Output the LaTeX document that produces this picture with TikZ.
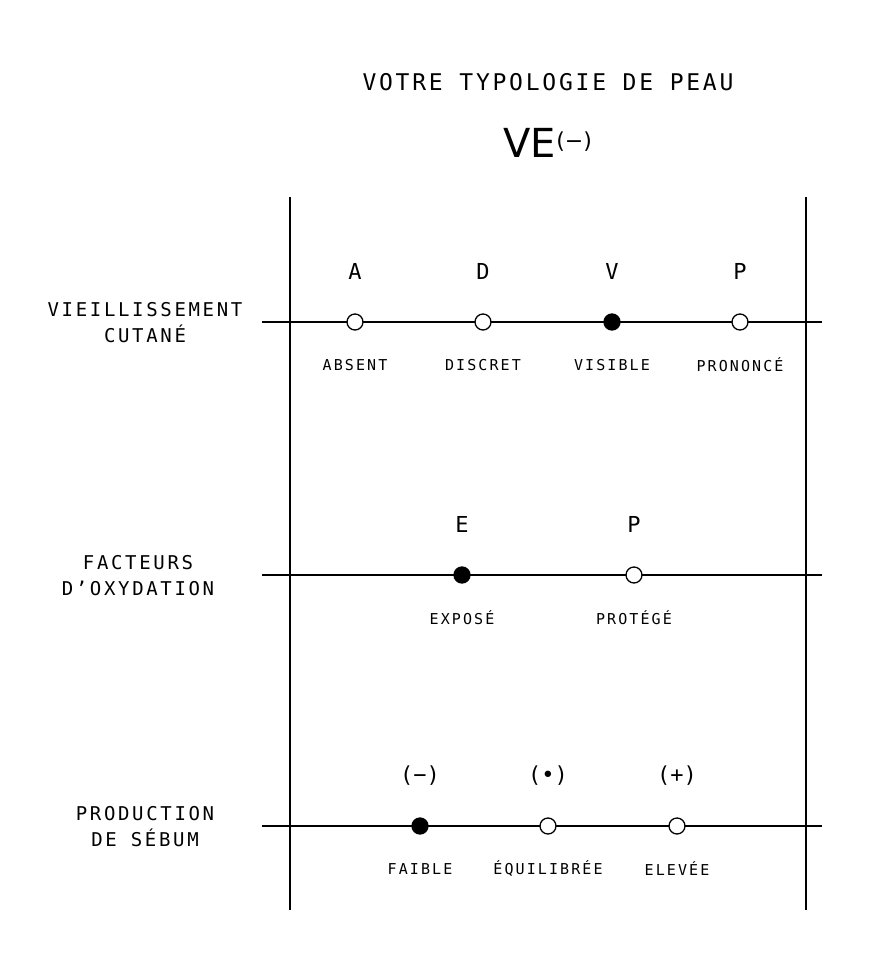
\documentclass[tikz,border=0pt]{standalone}
\usepackage{fontspec}
\setmainfont{DejaVu Sans Mono}
\newfontfamily\titlef[LetterSpace=12]{DejaVu Sans Mono}
\newfontfamily\smallf[LetterSpace=14]{DejaVu Sans Mono}
\newfontfamily\leftf[LetterSpace=14]{DejaVu Sans Mono}
\newfontfamily\bigf{DejaVu Sans}
\begin{document}
\begin{tikzpicture}[x=1pt,y=-1pt,
  ln/.style={line width=1.5pt},
  dot/.style={circle,draw,line width=1.3pt,fill=white,minimum size=16pt,inner sep=0pt},
  fdot/.style={dot,fill=black},
  let/.style={font=\fontsize{22}{22}\selectfont},
  lab/.style={font=\smallf\fontsize{15}{15}\selectfont},
  side/.style={font=\leftf\fontsize{19}{26}\selectfont,align=center}]
\useasboundingbox (0,0) rectangle (878,974);
\node[font=\titlef\fontsize{23}{23}\selectfont] (title) at (548,82) {VOTRE TYPOLOGIE DE PEAU};
\node[font=\bigf\fontsize{40}{40}\selectfont] (type) at (548,143) {VE\textsuperscript{\fontsize{22}{22}\selectfont(−)}};
\coordinate (l1) at (290,197); \coordinate (l2) at (290,910);
\coordinate (r1) at (806,197); \coordinate (r2) at (806,910);
\draw[ln] (l1) -- (l2); \draw[ln] (r1) -- (r2);
% row 1
\coordinate (a1) at (262,322); \coordinate (b1) at (822,322);
\draw[ln] (a1) -- (b1);
\node[side] (s1) at (145,323) {VIEILLISSEMENT\\CUTANÉ};
\foreach \x/\L/\T/\n in {355/A/ABSENT/1,483/D/DISCRET/2,612/V/VISIBLE/3,740/P/PRONONCÉ/4}{
  \node[let] (k\n) at (\x,271) {\L};
  \node[lab] (t\n) at (\x,365) {\T};
}
\node[dot] (d11) at (355,322) {}; \node[dot] (d12) at (483,322) {};
\node[fdot] (d13) at (612,322) {}; \node[dot] (d14) at (740,322) {};
% row 2
\coordinate (a2) at (262,575); \coordinate (b2) at (822,575);
\draw[ln] (a2) -- (b2);
\node[side] (s2) at (138,576) {FACTEURS\\D’OXYDATION};
\node[let] (e2) at (462,524) {E}; \node[let] (p2) at (634,524) {P};
\node[lab] (te) at (462,618) {EXPOSÉ}; \node[lab] (tp) at (634,618) {PROTÉGÉ};
\node[fdot] (d21) at (462,575) {}; \node[dot] (d22) at (634,575) {};
% row 3
\coordinate (a3) at (262,826); \coordinate (b3) at (822,826);
\draw[ln] (a3) -- (b3);
\node[side] (s3) at (145,827) {PRODUCTION\\DE SÉBUM};
\node[let] (m3) at (420,776) {(−)}; \node[let] (z3) at (548,776) {(•)}; \node[let] (q3) at (677,776) {(+)};
\node[lab] (tf) at (420,869) {FAIBLE}; \node[lab] (tq) at (548,869) {ÉQUILIBRÉE}; \node[lab] (tl) at (677,869) {ELEVÉE};
\node[fdot] (d31) at (420,826) {}; \node[dot] (d32) at (548,826) {}; \node[dot] (d33) at (677,826) {};
\end{tikzpicture}
\end{document}
